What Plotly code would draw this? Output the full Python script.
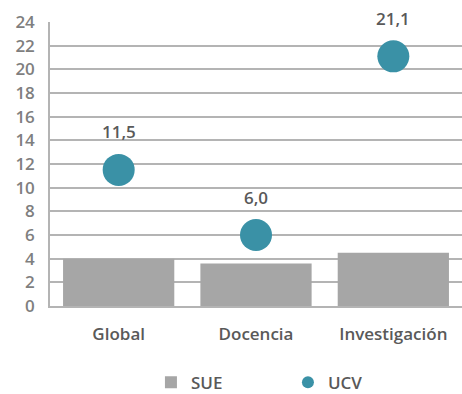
import plotly.graph_objects as go

categories = ["Global", "Docencia", "Investigación"]
sue = [4.0, 3.6, 4.5]
ucv = [11.5, 6.0, 21.1]
ucv_labels = ["11,5", "6,0", "21,1"]
y_ticks = list(range(0, 25, 2))

grid = "#b4b4b4"
fig = go.Figure()
fig.add_trace(go.Bar(x=categories, y=sue, name="SUE", marker=dict(color="#a6a6a6", line=dict(width=0))))
fig.add_trace(go.Scatter(x=categories, y=ucv, name="UCV", mode="markers",
                         marker=dict(color="#3a91a6", size=32)))
for c, v, t in zip(categories, ucv, ucv_labels):
    fig.add_annotation(x=c, y=v, text=t, showarrow=False, yshift=38,
                       font=dict(family="Open Sans", size=17, color="#595959", weight=600))

fig.update_layout(
    width=462, height=394,
    margin=dict(l=50, r=0, t=22, b=88, autoexpand=False),
    paper_bgcolor="white", plot_bgcolor="white",
    bargap=0.19,
    font=dict(family="Open Sans", color="#595959"),
    showlegend=True,
    legend=dict(orientation="h", x=0.245, xanchor="left", y=-0.27, yanchor="middle",
                entrywidth=92, itemwidth=30, font=dict(size=17, color="#595959", weight=600),
                itemsizing="constant"),
    xaxis=dict(showline=True, linecolor=grid, linewidth=1.5, showgrid=False,
               tickfont=dict(size=17, color="#595959", weight=600), ticks="", ticklen=0,
               ticklabelstandoff=12),
    yaxis=dict(range=[0, 24], tickvals=y_ticks, showline=True, linecolor=grid, linewidth=1.5,
               gridcolor=grid, gridwidth=1.5, zeroline=False,
               tickfont=dict(size=17, color="#7f7f7f", weight=600), ticks="", ticklabelstandoff=10),
)
fig.write_html("out.html", config={"displayModeBar": False},
               post_script="document.body.style.margin='0';document.body.style.overflow='hidden';")
